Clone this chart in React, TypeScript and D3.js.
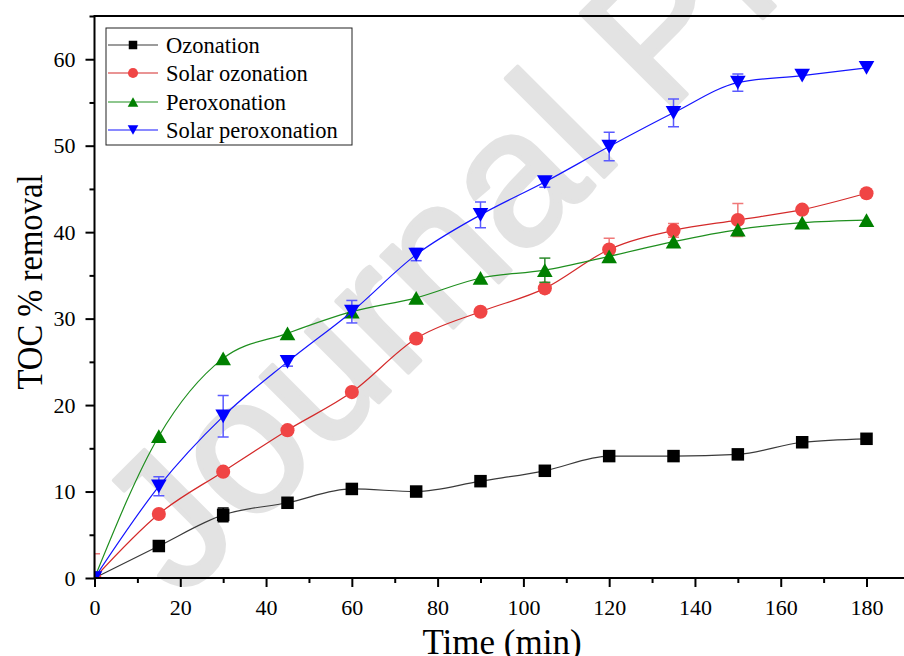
import React, { useEffect, useRef } from 'react';
import * as d3 from 'd3';

// sampling times (min)
const times = [0, 15, 30, 45, 60, 75, 90, 105, 120, 135, 150, 165, 180];

// TOC % removal
const ozonation = [0, 3.7, 7.3, 8.7, 10.3, 10.0, 11.2, 12.4, 14.1, 14.1, 14.3, 15.7, 16.1];
const ozonationErr = [0, 0.2, 0.8, 0.3, 0.3, 0.2, 0.3, 0.3, 0.3, 0.3, 0.3, 0.3, 0.3];
const solarOzonation = [0, 7.4, 12.3, 17.1, 21.5, 27.7, 30.8, 33.5, 38.0, 40.2, 41.4, 42.6, 44.5];
const solarOzonationErr = [2.8, 0.3, 0.3, 0.3, 0.3, 0.3, 0.3, 0.3, 1.3, 0.8, 1.9, 0.3, 0.3];
const peroxonation = [0, 16.4, 25.4, 28.3, 30.8, 32.4, 34.7, 35.6, 37.2, 38.9, 40.3, 41.1, 41.4];
const peroxonationErr = [0, 0.3, 0.3, 0.3, 0.3, 0.3, 0.3, 1.4, 0.3, 0.3, 0.3, 0.3, 0.3];
const solarPeroxonation = [0, 10.6, 18.7, 25.0, 30.8, 37.4, 42.0, 45.8, 49.9, 53.8, 57.3, 58.1, 59.0];
const solarPeroxonationErr = [0, 1.1, 2.4, 0.5, 1.3, 0.7, 1.5, 0.6, 1.65, 1.6, 1.0, 0.3, 0.4];

const seriesNames = ['Ozonation', 'Solar ozonation', 'Peroxonation', 'Solar peroxonation'];

const xMajor = [0, 20, 40, 60, 80, 100, 120, 140, 160, 180];
const xMinor = [10, 30, 50, 70, 90, 110, 130, 150, 170, 190];
const yMajor = [0, 10, 20, 30, 40, 50, 60];
const yMinor = [5, 15, 25, 35, 45, 55, 65];

const font = "'Liberation Serif', 'Times New Roman', serif";

const layout = { width: 904, height: 656, left: 94.5, top: 16, bottom: 578, right: 909.4 };

type Series = {
  name: string;
  values: number[];
  errors: number[];
  line: string;
  fill: string;
  err: string;
  shape: string;
};

const series: Series[] = [
  { name: seriesNames[0], values: ozonation, errors: ozonationErr, line: '#3a3a3a', fill: '#000000', err: '#000000', shape: 'square' },
  { name: seriesNames[1], values: solarOzonation, errors: solarOzonationErr, line: '#d42a2a', fill: '#f04545', err: '#f07878', shape: 'circle' },
  { name: seriesNames[2], values: peroxonation, errors: peroxonationErr, line: '#1f8f1f', fill: '#008000', err: '#2a8a2a', shape: 'up' },
  { name: seriesNames[3], values: solarPeroxonation, errors: solarPeroxonationErr, line: '#1515ff', fill: '#0000ff', err: '#5a5aff', shape: 'down' },
];

const marker = (shape: string, cx: number, cy: number, s: number, fill: string, key?: any) => {
  if (shape === 'square') {
    return <rect key={key} x={cx - s / 2} y={cy - s / 2} width={s} height={s} fill={fill} />;
  }
  if (shape === 'circle') {
    return <circle key={key} cx={cx} cy={cy} r={s / 2 + 0.8} fill={fill} />;
  }
  const w = s * 1.25 / 2;
  const h = s * 1.1 / 2;
  const d = shape === 'up'
    ? `M${cx},${cy - h}L${cx + w},${cy + h}L${cx - w},${cy + h}Z`
    : `M${cx},${cy + h}L${cx + w},${cy - h}L${cx - w},${cy - h}Z`;
  return <path key={key} d={d} fill={fill} />;
};

export default function App() {
  const axRef = useRef<SVGGElement>(null);

  const x = d3.scaleLinear().domain([0, 190]).range([layout.left, layout.right]);
  const y = d3.scaleLinear().domain([0, 65]).range([layout.bottom, layout.top]);

  const lineGen = d3.line<number>()
    .x((d, i) => x(times[i]))
    .y(d => y(d))
    .curve(d3.curveMonotoneX);

  useEffect(() => {
    const g = d3.select(axRef.current);
    g.selectAll('*').remove();

    const style = (sel: any) => {
      sel.select('.domain').remove();
      sel.selectAll('line').attr('stroke', '#000').attr('stroke-width', 2);
      sel.selectAll('text').attr('font-family', font).attr('font-size', 22).attr('fill', '#000');
    };

    g.append('g').attr('transform', `translate(0,${layout.bottom})`)
      .call(d3.axisBottom(x).tickValues(xMajor).tickSize(9).tickPadding(12).tickFormat(d3.format('d')))
      .call(style);
    g.append('g').attr('transform', `translate(0,${layout.bottom})`)
      .call(d3.axisBottom(x).tickValues(xMinor).tickSize(5).tickFormat(() => ''))
      .call(style);
    g.append('g').attr('transform', `translate(${layout.left},0)`)
      .call(d3.axisLeft(y).tickValues(yMajor).tickSize(9).tickPadding(10).tickFormat(d3.format('d')))
      .call(style);
    g.append('g').attr('transform', `translate(${layout.left},0)`)
      .call(d3.axisLeft(y).tickValues(yMinor).tickSize(5).tickFormat(() => ''))
      .call(style);

    // frame lines
    g.append('line').attr('x1', layout.left).attr('x2', layout.right)
      .attr('y1', layout.bottom).attr('y2', layout.bottom).attr('stroke', '#000').attr('stroke-width', 2);
    g.append('line').attr('x1', layout.left).attr('x2', layout.right)
      .attr('y1', layout.top).attr('y2', layout.top).attr('stroke', '#000').attr('stroke-width', 2);
    g.append('line').attr('x1', layout.left).attr('x2', layout.left)
      .attr('y1', layout.top - 1).attr('y2', layout.bottom + 1).attr('stroke', '#000').attr('stroke-width', 2);
  }, []);

  const legendRows = [45, 73, 102, 130];

  return (
    <svg width={layout.width} height={layout.height}
      style={{ position: 'absolute', left: 0, top: 0, background: '#fff' }}>
      <defs>
        <clipPath id="plotClip">
          <rect x={layout.left} y={layout.top} width={layout.right - layout.left} height={layout.bottom - layout.top} />
        </clipPath>
      </defs>
      <rect width={layout.width} height={layout.height} fill="#fff" />

      {/* watermark */}
      <text transform="translate(180,601) rotate(-45)" fontFamily="'Liberation Sans', Arial, sans-serif"
        fontSize={192} fill="#e3e3e3" stroke="#e3e3e3" strokeWidth={4} strokeLinejoin="round">Journal Pre-proof</text>

      <g clipPath="url(#plotClip)">
        {series.map(s => (
          <g key={s.name}>
            <path d={lineGen(s.values) || ''} fill="none" stroke={s.line} strokeWidth={1.2} />
            {s.values.map((v, i) => s.errors[i] > 0.45 ? (
              <g key={i} stroke={s.err} strokeWidth={1.5}>
                <line x1={x(times[i])} x2={x(times[i])} y1={y(v - s.errors[i])} y2={y(v + s.errors[i])} />
                <line x1={x(times[i]) - 5.5} x2={x(times[i]) + 5.5} y1={y(v + s.errors[i])} y2={y(v + s.errors[i])} />
                <line x1={x(times[i]) - 5.5} x2={x(times[i]) + 5.5} y1={y(v - s.errors[i])} y2={y(v - s.errors[i])} />
              </g>
            ) : null)}
            {s.values.map((v, i) => marker(s.shape, x(times[i]), y(v), 12.5, s.fill, i))}
          </g>
        ))}
      </g>

      <g ref={axRef} />

      {/* legend */}
      <rect x={106} y={28} width={246} height={117} fill="none" stroke="#222" strokeWidth={1} />
      {series.map((s, i) => (
        <g key={s.name}>
          <line x1={108} x2={158} y1={legendRows[i]} y2={legendRows[i]} stroke={s.line} strokeWidth={1.2} />
          {marker(s.shape, 133, legendRows[i], 8.5, s.fill)}
          <text x={166} y={legendRows[i] + 7.5} fontFamily={font} fontSize={22.5} fill="#000">{s.name}</text>
        </g>
      ))}

      {/* axis titles */}
      <text transform="translate(42,282) rotate(-90)" textAnchor="middle" fontFamily={font} fontSize={35}
        textLength={215} lengthAdjust="spacingAndGlyphs" fill="#000">TOC % removal</text>
      <text x={502} y={654} textAnchor="middle" fontFamily={font} fontSize={35} fill="#000">Time (min)</text>
    </svg>
  );
}
